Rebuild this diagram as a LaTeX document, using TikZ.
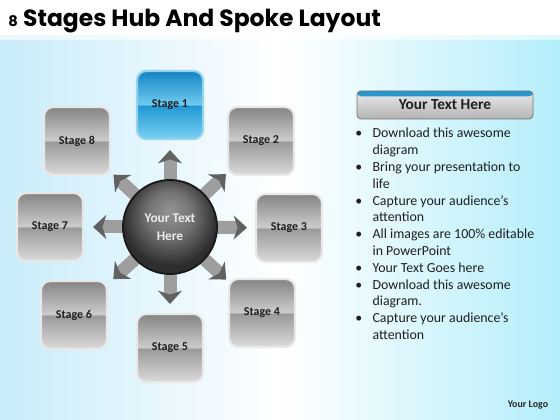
\documentclass[tikz,border=0pt]{standalone}
\usepackage{fontspec}
\setmainfont{Carlito}
\newfontfamily\titlefont{Poppins}
\usetikzlibrary{arrows.meta,calc}
\definecolor{bgblue}{RGB}{200,236,250}
\definecolor{sbT}{RGB}{20,132,196}
\definecolor{sbM1}{RGB}{110,202,240}
\definecolor{sbM2}{RGB}{34,152,212}
\definecolor{sbB}{RGB}{120,208,244}
\definecolor{sbEdge}{RGB}{150,210,235}
\definecolor{hdrblue}{RGB}{38,150,205}
\pgfdeclareverticalshading{stagegray}{100bp}{color(0bp)=(black!14); color(25bp)=(black!14); color(49.5bp)=(black!40); color(50.5bp)=(black!20); color(75bp)=(black!48); color(100bp)=(black!48)}
\pgfdeclareverticalshading{stageblue}{100bp}{color(0bp)=(sbB); color(25bp)=(sbB); color(49.5bp)=(sbM2); color(50.5bp)=(sbM1); color(75bp)=(sbT); color(100bp)=(sbT)}
\pgfdeclareradialshading{hubshade}{\pgfpoint{0bp}{9bp}}{color(0bp)=(black!42); color(12bp)=(black!55); color(25bp)=(black!82); color(50bp)=(black!82)}
\pgfdeclarelayer{bg}
\pgfdeclarelayer{spokes}
\pgfsetlayers{bg,spokes,main}
\tikzset{
  stagebox/.style={rounded corners=7pt, minimum width=49.5pt, minimum height=51pt,
    draw=black!9, line width=1.6pt, shading=stagegray, text=black!88,
    font=\bfseries\fontsize{9}{10}\selectfont, inner sep=0pt},
  bluebox/.style={stagebox, shading=stageblue, draw=sbEdge},
  hubnode/.style={circle, minimum size=70.5pt, draw=black!90, line width=1.4pt,
    shading=hubshade, text=white!92!black, align=center,
    font=\bfseries\fontsize{10}{13.5}\selectfont},
  spoke/.style={line width=9.75pt, black!38,
    -{Stealth[width=18pt,length=10pt,inset=3pt,color=black!62]}},
  hdrbox/.style={rounded corners=3pt, minimum width=132pt, minimum height=21pt,
    draw=black!55, line width=0.6pt, top color=white!92!black, bottom color=black!30,
    text=black!88, font=\bfseries\fontsize{11.5}{13}\selectfont,
    path picture={\fill[hdrblue] ([yshift=1pt]path picture bounding box.north west) rectangle ([yshift=-4pt]path picture bounding box.north east);}},
  listtext/.style={align=left, inner sep=0pt, text=black!88, font=\fontsize{10.4}{12.6}\selectfont},
}
\newcommand{\bul}[1]{\makebox[13pt][l]{\textbullet}#1}
\newcommand{\cnt}[1]{\hspace*{13pt}#1}
\begin{document}
\begin{tikzpicture}[x=0.75pt,y=-0.75pt]
\useasboundingbox (0,0) rectangle (560,420);
\begin{pgfonlayer}{bg}
\fill[white] (0,0) rectangle (560,420);
\shade[left color=bgblue, right color=bgblue!90!cyan, middle color=white] (0,36) rectangle (560,420);
\shade[top color=white, bottom color=white, opacity=0.6] (0,36) rectangle (560,40);
\end{pgfonlayer}
% title
\node[anchor=base west, inner sep=0pt, font=\titlefont\bfseries\fontsize{17.6}{19}\selectfont] (title) at (8,27) {{\fontsize{11}{12}\selectfont 8}\hspace{4pt}Stages Hub And Spoke Layout};
% stages
\node[bluebox] (s1) at (170,105) {Stage 1};
\node[stagebox] (s2) at (261,141) {Stage 2};
\node[stagebox] (s3) at (289,228) {Stage 3};
\node[stagebox] (s4) at (262,313) {Stage 4};
\node[stagebox] (s5) at (170,348) {Stage 5};
\node[stagebox] (s6) at (74,315) {Stage 6};
\node[stagebox] (s7) at (50,227) {Stage 7};
\node[stagebox] (s8) at (77,141) {Stage 8};
% hub
\node[hubnode] (hub) at (170,227) {Your Text\\Here};
\begin{pgfonlayer}{spokes}
\foreach \s in {s1,s2,s3,s4,s5,s6,s7,s8}
  \draw[spoke] (hub.center) -- ($(hub.center)!57.75pt!(\s.center)$);
\end{pgfonlayer}
% right panel
\node[hdrbox] (hdr) at (445,105) {Your Text Here};
\node[listtext, anchor=north west] (list) at (355,128) {%
\bul{Download this awesome}\\
\cnt{diagram}\\
\bul{Bring your presentation to}\\
\cnt{life}\\
\bul{Capture your audience’s}\\
\cnt{attention}\\
\bul{All images are 100\% editable}\\
\cnt{in PowerPoint}\\
\bul{Your Text Goes here}\\
\bul{Download this awesome}\\
\cnt{diagram.}\\
\bul{Capture your audience’s}\\
\cnt{attention}};
\node[font=\bfseries\fontsize{7.5}{9}\selectfont, text=black!85] (logo) at (528,405) {Your Logo};
\end{tikzpicture}
\end{document}
